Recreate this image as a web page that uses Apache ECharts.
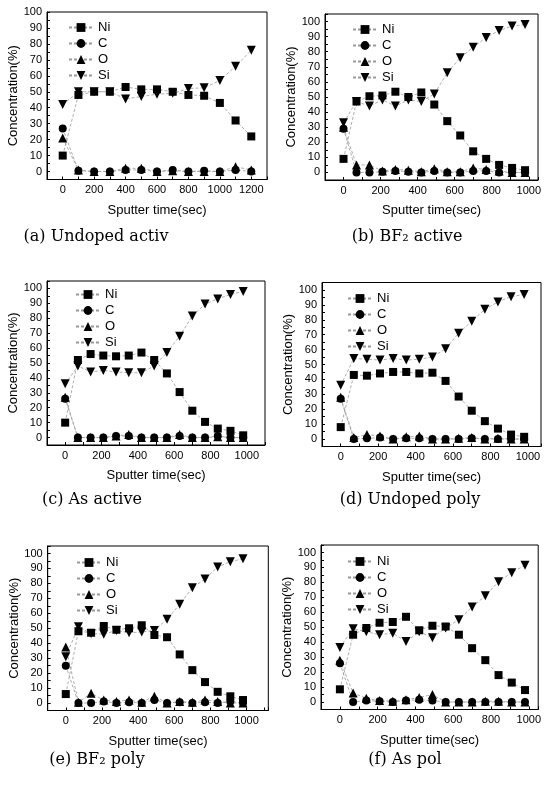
<!DOCTYPE html>
<html>
<head>
<meta charset="utf-8">
<script src="https://cdn.jsdelivr.net/npm/echarts@6/dist/echarts.min.js"></script>
<style>
  html, body { margin: 0; padding: 0; background: #fff; }
  #chart { width: 544px; height: 785px; }
</style>
</head>
<body>
<div id="chart"></div>
<script>
// sputter times (sec)
const timeA = [0, 100, 200, 300, 400, 500, 600, 700, 800, 900, 1000, 1100, 1200];
const timeB = [0, 70, 140, 210, 280, 350, 420, 490, 560, 630, 700, 770, 840, 910, 980];

// tick labels
const yLabels = [0, 10, 20, 30, 40, 50, 60, 70, 80, 90, 100];
const xLabelsA = [0, 200, 400, 600, 800, 1000, 1200];
const xLabelsB = [0, 200, 400, 600, 800, 1000];

// (a) Undoped active
const aNi = [10, 48, 50, 50, 53, 51.5, 51.5, 50, 48, 47.5, 43, 32, 22];
const aC = [27, 0.5, 0, 0, 1, 1, 0, 1, 0, 0.5, 0, 1, 0];
const aO = [21, 1, 0, 0, 2, 2, 0, 0.5, 0, 0, 0, 3, 1];
const aSi = [42, 50, 50, 50, 45.5, 47, 48.5, 49, 52, 52.5, 57, 66, 76];

// (b) BF2 active
const bNi = [9, 47, 50.5, 51, 53.5, 50, 53, 45, 34, 24.5, 14, 9, 5, 3, 1.5];
const bC = [29, 0, 0, 0.5, 1, 0.5, 0, 1, 0, 0, 1, 1, 0, 0, 0];
const bO = [30, 5, 5, 1, 2, 1.5, 0.5, 2.5, 0.5, 0.5, 3, 2, 1, 0, 0];
const bSi = [33, 47, 44, 48, 44, 48, 47, 52, 66, 76, 83, 89.5, 94, 97, 98];

// (c) As active
const cNi = [10, 52, 56, 55, 54.5, 55, 57, 52, 43, 30.5, 18, 10.5, 6, 4.5, 1.5];
const cC = [26, 0, 0, 0, 1, 1, 0, 0, 0, 1, 0, 0, 1, 0, 0];
const cO = [27, 0, 0, 0, 1, 2, 0, 0, 0, 2, 0, 0, 0.5, 0, 0];
const cSi = [36, 48, 44, 45, 44, 43.5, 43.5, 48, 57, 68, 81.5, 89.5, 93, 96, 98];

// (d) Undoped poly
const dNi = [8, 43, 42.5, 44, 45, 45, 44, 44.5, 39, 28.5, 19, 12, 7, 3, 1.5];
const dC = [27, 0, 0.5, 1, 0, 0.5, 0.5, 0, 0, 0, 0.5, 0, 0, 0, 0];
const dO = [28, 1, 3, 2, 0, 1.5, 2, 0, 0, 0.5, 1, 0, 0.5, 0, 0];
const dSi = [36, 54, 53.5, 53, 54, 53, 53.5, 55, 60.5, 71, 79, 87, 92, 95.5, 97];

// (e) BF2 poly
const eNi = [6, 48, 47, 51.5, 49, 50, 52, 45.5, 44, 32.5, 22, 14, 7.5, 4.5, 2];
const eC = [25, 0, 0, 1, 0, 0.5, 0, 2, 0, 0.5, 0, 0.5, 0, 1, 0];
const eO = [37.5, 0.5, 6.5, 2, 1, 2, 0.5, 4.5, 0, 1, 0.5, 2, 1, 0, 0];
const eSi = [31, 51, 46.5, 46, 48.5, 47, 47.5, 48.5, 56, 66, 77, 83, 91, 94.5, 96.5];

// (f) As poly
const fNi = [8.5, 45, 49.5, 53, 53.5, 57, 48, 51, 50.5, 45, 36, 28, 18, 13, 8];
const fC = [26, 0, 1, 0.5, 0, 1, 1.5, 1, 0, 0, 0, 0, 0, 0, 0];
const fO = [28, 6, 2.5, 1, 0.5, 1.5, 3, 5, 0, 0, 0, 0.5, 0.5, 0, 0];
const fSi = [36.5, 49, 47, 45, 46, 40.5, 47, 43, 49.5, 55, 63.5, 71, 80.5, 86.5, 91.5];

const panels = [
  { t: timeA, s: [aNi, aC, aO, aSi], xl: xLabelsA, grid: { left: 47, top: 12, width: 220, height: 167.5 },
    x: [-100, 1300], y: [-5, 100], leg: { left: 68, top: 21 }, cap: ["(a) Undoped activ", 96, 237] },
  { t: timeB, s: [bNi, bC, bO, bSi], xl: xLabelsB, grid: { left: 325, top: 14, width: 214, height: 166 },
    x: [-100, 1050], y: [-5, 105], leg: { left: 352, top: 23 }, cap: ["(b) BF₂ active", 407, 237] },
  { t: timeB, s: [cNi, cC, cO, cSi], xl: xLabelsB, grid: { left: 47, top: 281, width: 218, height: 164 },
    x: [-100, 1100], y: [-5, 105], leg: { left: 75, top: 288 }, cap: ["(c) As active", 92, 500] },
  { t: timeB, s: [dNi, dC, dO, dSi], xl: xLabelsB, grid: { left: 322, top: 282.5, width: 220, height: 164 },
    x: [-100, 1070], y: [-5, 105], leg: { left: 347, top: 292 }, cap: ["(d) Undoped poly", 410, 500] },
  { t: timeB, s: [eNi, eC, eO, eSi], xl: xLabelsB, grid: { left: 47.7, top: 546, width: 220.6, height: 164.5 },
    x: [-100, 1120], y: [-5, 105], leg: { left: 76, top: 556 }, cap: ["(e) BF₂ poly", 97, 760] },
  { t: timeB, s: [fNi, fC, fO, fSi], xl: xLabelsB, grid: { left: 321, top: 545, width: 219, height: 164.5 },
    x: [-100, 1050], y: [-5, 105], leg: { left: 347, top: 555 }, cap: ["(f) As pol", 405, 760] }
];

const names = ["Ni", "C", "O", "Si"];
const symbols = ["rect", "circle", "triangle", "triangle"];
const sizes = [8, 8, 9, 9];
const rotates = [0, 0, 0, 180];

let grids = [], xAxes = [], yAxes = [], legends = [], series = [], texts = [];

panels.forEach((p, i) => {
  grids.push(Object.assign({ show: true, borderColor: "#000", borderWidth: 1, backgroundColor: "transparent" }, p.grid));
  xAxes.push({
    type: "value", gridIndex: i, min: p.x[0], max: p.x[1], interval: 100,
    name: "Sputter time(sec)", nameLocation: "middle", nameGap: 24,
    nameTextStyle: { fontFamily: "Liberation Sans", fontSize: 13, color: "#000" },
    axisLine: { onZero: false, lineStyle: { color: "#000" } },
    axisTick: { inside: true, length: 3, lineStyle: { color: "#000" } },
    splitLine: { show: false },
    axisLabel: {
      margin: 5, fontFamily: "Liberation Sans", fontSize: 11, color: "#000",
      showMinLabel: true, showMaxLabel: true,
      formatter: v => (p.xl.indexOf(v) >= 0 ? String(v) : "")
    }
  });
  yAxes.push({
    type: "value", gridIndex: i, min: p.y[0], max: p.y[1], interval: 5,
    name: "Concentration(%)", nameLocation: "middle", nameGap: 27, nameRotate: 90,
    nameTextStyle: { fontFamily: "Liberation Sans", fontSize: 13, color: "#000" },
    axisLine: { onZero: false, lineStyle: { color: "#000" } },
    axisTick: { inside: true, length: 3, lineStyle: { color: "#000" } },
    splitLine: { show: false },
    axisLabel: {
      margin: 5, fontFamily: "Liberation Sans", fontSize: 11, color: "#000",
      showMinLabel: true, showMaxLabel: true,
      formatter: v => (yLabels.indexOf(v) >= 0 ? String(v) : "")
    }
  });
  legends.push({
    orient: "vertical", left: p.leg.left, top: p.leg.top, padding: 0,
    itemWidth: 24, itemHeight: 11, itemGap: 3,
    selectedMode: false,
    textStyle: { fontFamily: "Liberation Sans", fontSize: 13, color: "#000" },
    data: names
  });
  names.forEach((n, k) => {
    series.push({
      name: n, type: "line", xAxisIndex: i, yAxisIndex: i,
      data: p.t.map((tv, j) => [tv, p.s[k][j]]),
      symbol: symbols[k], symbolSize: sizes[k], symbolRotate: rotates[k],
      itemStyle: { color: "#000" },
      lineStyle: { color: "#999", width: 0.8, type: [3, 2] },
      animation: false
    });
  });
  texts.push({
    type: "text", x: p.cap[1], y: p.cap[2],
    style: { text: p.cap[0], fontFamily: "DejaVu Serif", fontSize: 16, fill: "#000",
             textAlign: "center", textVerticalAlign: "middle" }
  });
});

const chart = echarts.init(document.getElementById("chart"));
chart.setOption({
  animation: false,
  backgroundColor: "#fff",
  grid: grids,
  xAxis: xAxes,
  yAxis: yAxes,
  legend: legends,
  series: series,
  graphic: texts
});
</script>
</body>
</html>
